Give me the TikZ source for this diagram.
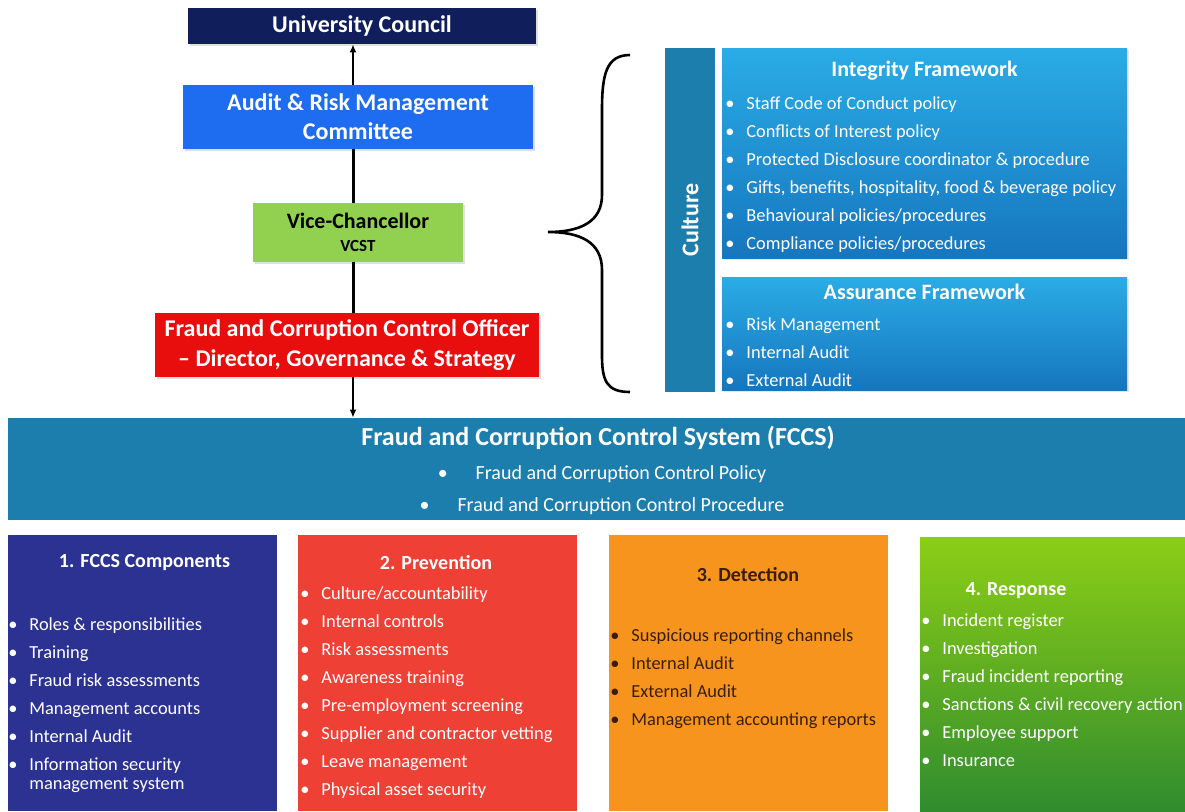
\documentclass[tikz,border=0pt]{standalone}
\usepackage{fontspec}
\setmainfont{Carlito}
\usetikzlibrary{arrows.meta,shadows,positioning}

\definecolor{ucnavy}{RGB}{16,30,92}
\definecolor{armcblue}{RGB}{30,108,240}
\definecolor{vcgreen}{RGB}{146,208,80}
\definecolor{fccored}{RGB}{232,14,14}
\definecolor{fccsteal}{RGB}{28,126,172}
\definecolor{frametop}{RGB}{42,172,230}
\definecolor{framebot}{RGB}{22,118,190}
\definecolor{compnavy}{RGB}{44,50,146}
\definecolor{prevred}{RGB}{238,64,52}
\definecolor{detorange}{RGB}{247,148,30}
\definecolor{dettext}{RGB}{58,30,8}
\definecolor{resptop}{RGB}{140,206,22}
\definecolor{respbot}{RGB}{48,140,46}

\newcommand\itm{\makebox[10.5pt][l]{\textbullet}}

\begin{document}
\begin{tikzpicture}[x=0.5pt,y=-0.5pt,
    box/.style={draw=none, inner sep=0pt, align=center, text=white,
        font=\fontsize{12}{14.5}\selectfont\bfseries,
        drop shadow={opacity=0.25, shadow xshift=1pt, shadow yshift=-1pt}},
    panel/.style={draw=none, inner sep=0pt},
    ptitle/.style={inner sep=0pt, text=white, font=\fontsize{10}{12}\selectfont\bfseries},
    plist/.style={inner sep=0pt, anchor=north west, align=left, text=white,
        font=\fontsize{9.2}{14}\selectfont},
    link/.style={line width=1.5pt},
    uplink/.style={line width=1.2pt, -{Latex[length=4pt,width=3.5pt]}}]
\useasboundingbox (0,0) rectangle (1185,811);

%%%%% governance chain %%%%%
\node[box, fill=ucnavy, minimum width=174pt, minimum height=18pt] (uc) at (362,26) {University Council};
\node[box, fill=armcblue, minimum width=175pt, minimum height=32pt] (armc) at (358,117) {Audit \& Risk Management\\Committee};
\node[box, fill=vcgreen, text=black, minimum width=105pt, minimum height=29.5pt] (vc) at (358,232.5)
    {\fontsize{11}{11}\selectfont Vice-Chancellor\\[-3pt]{\fontsize{8.5}{8.5}\selectfont VCST}};
\node[box, fill=fccored, minimum width=192pt, minimum height=32pt, font=\fontsize{12}{15}\selectfont\bfseries] (fcco) at (347,345)
    {Fraud and Corruption Control Officer\\\textendash{} Director, Governance \& Strategy};
\coordinate (spine) at (353,0);

\draw[uplink] (armc.north -| spine) -- (uc.south -| spine);
\draw[link] (armc.south -| spine) -- (vc.north -| spine);
\draw[link] (vc.south -| spine) -- (fcco.north -| spine);

%%%%% culture and frameworks %%%%%
\draw[line width=1.3pt] (630,55) .. controls (606,55) and (602,75) .. (602,110) -- (602,195)
    .. controls (602,222) and (580,232) .. (548,232)
    .. controls (580,232) and (602,242) .. (602,270) -- (602,355)
    .. controls (602,380) and (606,392) .. (630,392);

\node[panel, fill=fccsteal, minimum width=25pt, minimum height=172pt] (culture) at (690,220) {};
\node[rotate=90, text=white, font=\fontsize{12}{12}\selectfont\bfseries] (culture-t) at (culture) {Culture};

\node[panel, top color=frametop, bottom color=framebot, minimum width=202.5pt, minimum height=105pt,
    drop shadow={opacity=0.2, shadow xshift=1pt, shadow yshift=-1pt}] (integ) at (924.5,153) {};
\node[ptitle, font=\fontsize{11}{12}\selectfont\bfseries] (integ-t) at (924.5,71) {Integrity Framework};
\node[plist] (integ-l) at (725,96) {\itm Staff Code of Conduct policy\\
    \itm Conflicts of Interest policy\\
    \itm Protected Disclosure coordinator \& procedure\\
    \itm Gifts, benefits, hospitality, food \& beverage policy\\
    \itm Behavioural policies/procedures\\
    \itm Compliance policies/procedures};

\node[panel, top color=frametop, bottom color=framebot, minimum width=202.5pt, minimum height=56.5pt,
    drop shadow={opacity=0.2, shadow xshift=1pt, shadow yshift=-1pt}] (assur) at (924.5,333.5) {};
\node[ptitle, font=\fontsize{11}{12}\selectfont\bfseries] (assur-t) at (924.5,292) {Assurance Framework};
\node[plist] (assur-l) at (725,317) {\itm Risk Management\\
    \itm Internal Audit\\
    \itm External Audit};

%%%%% control system %%%%%
\node[panel, fill=fccsteal, minimum width=588.5pt, minimum height=51pt] (fccs) at (596.5,469) {};
\node[ptitle, font=\fontsize{13}{13}\selectfont\bfseries] (fccs-t) at (598,438) {Fraud and Corruption Control System (FCCS)};
\node[inner sep=0pt, align=center, text=white, font=\fontsize{10}{16}\selectfont] (fccs-l) at (602,490)
    {\textbullet\hspace{14pt}Fraud and Corruption Control Policy\\
     \textbullet\hspace{14pt}Fraud and Corruption Control Procedure};
\draw[uplink] (fcco.south -| spine) -- (fccs.north -| spine);

%%%%% four pillars %%%%%
\node[panel, fill=compnavy, minimum width=134.5pt, minimum height=138pt] (comp) at (142.5,673) {};
\node[ptitle] (comp-t) at (144.5,563) {1. FCCS Components};
\node[plist] (comp-l) at (8,617) {\itm Roles \& responsibilities\\
    \itm Training\\
    \itm Fraud risk assessments\\
    \itm Management accounts\\
    \itm Internal Audit\\
    \itm Information security\\[-4.5pt]
    \hspace*{10.5pt}management system};

\node[panel, fill=prevred, minimum width=139.5pt, minimum height=138pt] (prev) at (437.5,673) {};
\node[ptitle] (prev-t) at (436,563) {2. Prevention};
\node[plist] (prev-l) at (300,586) {\itm Culture/accountability\\
    \itm Internal controls\\
    \itm Risk assessments\\
    \itm Awareness training\\
    \itm Pre-employment screening\\
    \itm Supplier and contractor vetting\\
    \itm Leave management\\
    \itm Physical asset security};

\node[panel, fill=detorange, minimum width=139.5pt, minimum height=138pt] (detect) at (748.5,673) {};
\node[ptitle, text=dettext] (detect-t) at (748,575) {3. Detection};
\node[plist, text=dettext] (detect-l) at (610,628) {\itm Suspicious reporting channels\\
    \itm Internal Audit\\
    \itm External Audit\\
    \itm Management accounting reports};

\node[panel, top color=resptop, bottom color=respbot, minimum width=132.5pt, minimum height=137pt] (resp) at (1052.5,674) {};
\node[ptitle] (resp-t) at (1016,591) {4. Response};
\node[plist] (resp-l) at (921,613) {\itm Incident register\\
    \itm Investigation\\
    \itm Fraud incident reporting\\
    \itm Sanctions \& civil recovery action\\
    \itm Employee support\\
    \itm Insurance};

\end{tikzpicture}
\end{document}
